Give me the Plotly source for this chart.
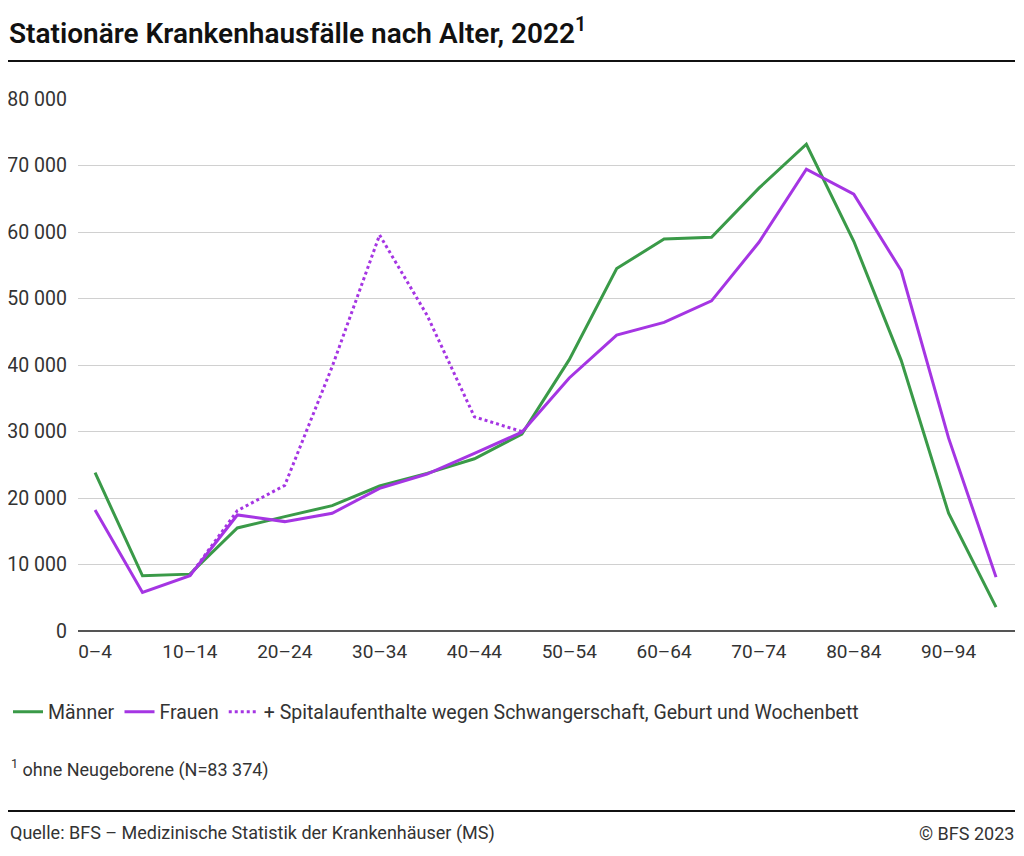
import plotly.graph_objects as go

categories = ["0–4", "5–9", "10–14", "15–19", "20–24", "25–29", "30–34", "35–39",
              "40–44", "45–49", "50–54", "55–59", "60–64", "65–69", "70–74",
              "75–79", "80–84", "85–89", "90–94", "95+"]
maenner = [23800, 8300, 8550, 15500, 17200, 18850, 21800, 23700, 25900, 29600,
           40800, 54500, 58950, 59200, 66600, 73200, 58600, 40700, 17700, 3600]
frauen = [18200, 5800, 8320, 17450, 16450, 17700, 21450, 23600, 26700, 29900,
          38050, 44500, 46400, 49650, 58450, 69450, 65700, 54200, 29000, 8100]
schwanger = [None, None, 8320, 18100, 21900, 39750, 59550, 47500, 32200, 30000,
             None, None, None, None, None, None, None, None, None, None]
tick_labels = ["0–4", "10–14", "20–24", "30–34", "40–44", "50–54", "60–64",
               "70–74", "80–84", "90–94"]
y_ticks = [0, 10000, 20000, 30000, 40000, 50000, 60000, 70000, 80000]

GREEN = "#3a9a48"
PURPLE = "#a535e3"
FONT = "Roboto"
TXT = "#333333"

OFF = 8  # page body margin
W, H = 1024 - OFF, 856 - OFF
# plot area in page pixel coordinates
PL, PR, PT, PB = 78, 1015, 99, 631
L, R, T, B = PL - OFF, PR - OFF, PT - OFF, PB - OFF

def px(x):
    return (x - PL) / (PR - PL)

def py(y):
    return (PB - y) / (PB - PT)

fig = go.Figure()
fig.add_trace(go.Scatter(x=categories, y=maenner, mode="lines", name="Männer",
                         line=dict(color=GREEN, width=3)))
fig.add_trace(go.Scatter(x=categories, y=frauen, mode="lines", name="Frauen",
                         line=dict(color=PURPLE, width=3)))
fig.add_trace(go.Scatter(x=categories, y=schwanger, mode="lines",
                         name="+ Spitalaufenthalte wegen Schwangerschaft, Geburt und Wochenbett",
                         line=dict(color=PURPLE, width=3, dash="dot"),
                         connectgaps=False))

fig.update_layout(
    width=W, height=H,
    margin=dict(l=L, r=W - R, t=T, b=H - B, autoexpand=False),
    paper_bgcolor="white", plot_bgcolor="white",
    font=dict(family=FONT, size=19, color=TXT),
    separators=", ",
    title=dict(text="Stationäre Krankenhausfälle nach Alter, 2022<sup>1</sup>",
               x=(9 - OFF) / W, xanchor="left", xref="container",
               y=1 - (33 - OFF) / H, yanchor="middle", yref="container",
               font=dict(family=FONT, size=28, color="#111111", weight=600)),
    xaxis=dict(type="category", categoryorder="array", categoryarray=categories,
               range=[-0.36, 19.4], tickmode="array", tickvals=tick_labels,
               ticktext=tick_labels, showgrid=False, showline=False, ticks="",
               tickfont=dict(size=19, color=TXT), zeroline=False,
               ticklabelstandoff=7, fixedrange=True, automargin=False),
    yaxis=dict(range=[0, 80000], tickmode="array", tickvals=y_ticks,
               tickformat=",d", showgrid=True, gridcolor="#d0d0d0", gridwidth=1,
               zeroline=False, showline=False, ticks="", ticklabelstandoff=10,
               tickfont=dict(size=19.5, color=TXT), automargin=False),
    showlegend=True,
    legend=dict(orientation="h", xref="container", yref="container",
                x=0, y=1 - (712 - OFF) / H, xanchor="left", yanchor="middle",
                font=dict(size=19.5, color=TXT), bgcolor="rgba(0,0,0,0)",
                itemwidth=30, tracegroupgap=0),
)

shapes = [
    dict(type="line", xref="paper", yref="paper", x0=px(8), x1=px(1015),
         y0=py(61), y1=py(61), line=dict(color="#111111", width=2)),
    dict(type="line", xref="paper", yref="paper", x0=0, x1=1,
         y0=0, y1=0, line=dict(color="#555555", width=2)),
    dict(type="line", xref="paper", yref="paper", x0=px(8), x1=px(1015),
         y0=py(811), y1=py(811), line=dict(color="#111111", width=2)),
]
fig.update_layout(shapes=shapes)

annotations = [
    dict(text="<sup>1</sup> ohne Neugeborene (N=83 374)", xref="paper", yref="paper",
         x=px(9), y=py(768), xanchor="left", yanchor="middle", showarrow=False,
         font=dict(family=FONT, size=18, color=TXT)),
    dict(text="Quelle: BFS – Medizinische Statistik der Krankenhäuser (MS)",
         xref="paper", yref="paper", x=px(8), y=py(833), xanchor="left",
         yanchor="middle", showarrow=False,
         font=dict(family=FONT, size=18, color=TXT)),
    dict(text="© BFS 2023", xref="paper", yref="paper", x=px(1016), y=py(833),
         xanchor="right", yanchor="middle", showarrow=False,
         font=dict(family=FONT, size=18, color=TXT)),
]
fig.update_layout(annotations=annotations)

fig.write_html("out.html")
